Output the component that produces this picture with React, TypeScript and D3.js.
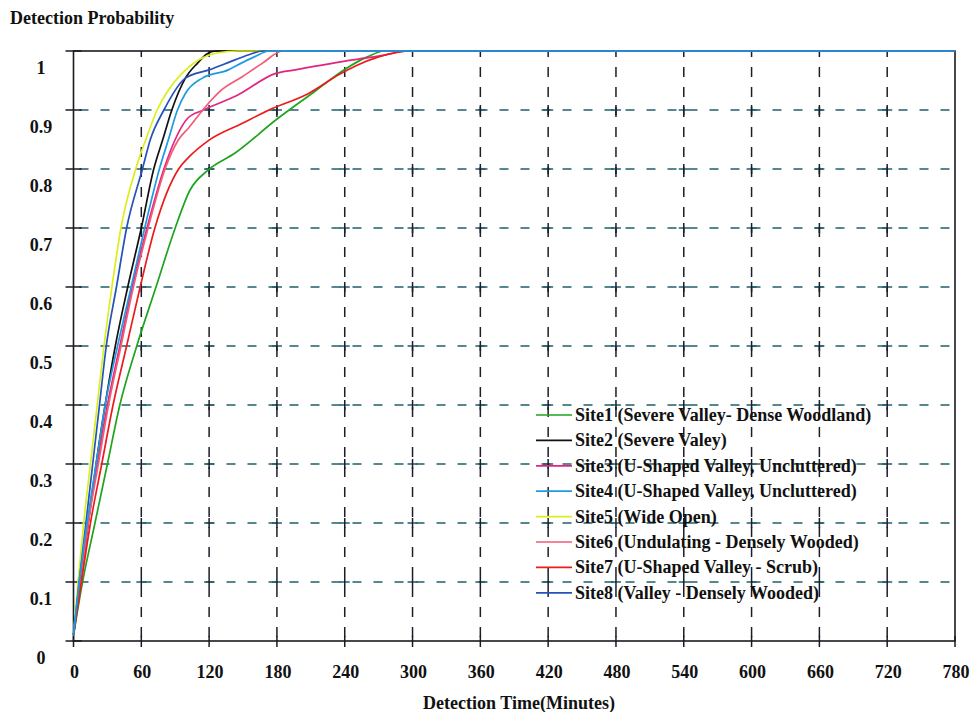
import React from "react";
import * as d3 from "d3";

const W = 973;
const H = 712;

const xTicks = [0, 60, 120, 180, 240, 300, 360, 420, 480, 540, 600, 660, 720, 780];
const yTicks = [0, 0.1, 0.2, 0.3, 0.4, 0.5, 0.6, 0.7, 0.8, 0.9, 1];
const yTickLabels = ["0", "0.1", "0.2", "0.3", "0.4", "0.5", "0.6", "0.7", "0.8", "0.9", "1"];

const site1T = [0, 8, 19, 30, 41, 56, 73, 90, 103, 119, 143, 179, 211, 241, 260, 275, 780];
const site1P = [0.01, 0.1, 0.2, 0.3, 0.4, 0.5, 0.6, 0.7, 0.764, 0.798, 0.827, 0.883, 0.928, 0.97, 0.99, 1, 1];

const site2T = [0, 6, 13, 20, 28, 37, 48, 60, 71, 79, 87, 99, 110, 118, 126, 780];
const site2P = [0.01, 0.1, 0.2, 0.3, 0.4, 0.5, 0.6, 0.7, 0.8, 0.85, 0.9, 0.954, 0.98, 0.995, 1, 1];

const site3T = [0, 6, 13, 21, 30, 41, 52, 65, 80, 90, 101, 115, 145, 179, 196, 247, 275, 295, 780];
const site3P = [0.01, 0.1, 0.2, 0.3, 0.4, 0.5, 0.6, 0.7, 0.8, 0.85, 0.886, 0.9, 0.925, 0.962, 0.968, 0.985, 0.993, 1, 1];

const site4T = [0, 5, 12, 20, 28, 39, 51, 63, 76, 84, 92, 99, 114, 137, 145, 160, 173, 780];
const site4P = [0.01, 0.1, 0.2, 0.3, 0.4, 0.5, 0.6, 0.7, 0.8, 0.85, 0.9, 0.928, 0.954, 0.968, 0.976, 0.99, 1, 1];

const site5T = [0, 4, 9, 15, 21, 27, 34, 42, 55, 64, 74, 84, 96, 111, 128, 145, 780];
const site5P = [0.01, 0.1, 0.2, 0.3, 0.4, 0.5, 0.6, 0.7, 0.8, 0.85, 0.9, 0.934, 0.962, 0.985, 0.997, 1, 1];

const site6T = [0, 6, 13, 22, 31, 42, 53, 66, 81, 93, 102, 117, 131, 149, 167, 185, 780];
const site6P = [0.01, 0.1, 0.2, 0.3, 0.4, 0.5, 0.6, 0.7, 0.8, 0.85, 0.87, 0.906, 0.934, 0.956, 0.979, 1, 1];

const site7T = [0, 7, 15, 25, 35, 47, 59, 72, 93, 102, 120, 149, 173, 208, 235, 250, 270, 300, 780];
const site7P = [0.01, 0.1, 0.2, 0.3, 0.4, 0.5, 0.6, 0.7, 0.8, 0.82, 0.849, 0.877, 0.9, 0.928, 0.96, 0.975, 0.99, 1, 1];

const site8T = [0, 5, 11, 17, 23, 29, 38, 47, 61, 68, 80, 99, 120, 143, 157, 167, 780];
const site8P = [0.01, 0.1, 0.2, 0.3, 0.4, 0.5, 0.6, 0.7, 0.8, 0.85, 0.9, 0.954, 0.968, 0.985, 0.995, 1, 1];

const siteNames = [
  "Site1 (Severe Valley- Dense Woodland)",
  "Site2 (Severe Valey)",
  "Site3 (U-Shaped Valley, Uncluttered)",
  "Site4 (U-Shaped Valley, Uncluttered)",
  "Site5 (Wide Open)",
  "Site6 (Undulating - Densely Wooded)",
  "Site7 (U-Shaped Valley - Scrub)",
  "Site8 (Valley - Densely Wooded)",
];
const siteColors = ["#1ea41e", "#111111", "#e0267e", "#1f9ae0", "#dcee1c", "#f25a78", "#ea1c1c", "#2352b8"];
const siteTimes = [site1T, site2T, site3T, site4T, site5T, site6T, site7T, site8T];
const siteProbs = [site1P, site2P, site3P, site4P, site5P, site6P, site7P, site8P];
const drawOrder = [0, 1, 2, 4, 5, 6, 7, 3];

const FONT = "'Liberation Serif', 'Times New Roman', serif";

export default function App() {
  const x0 = 73.5, x1 = 955, yTop = 51, yBot = 641;
  const x = d3.scaleLinear().domain([0, 780]).range([x0, x1]);
  const y = d3.scaleLinear().domain([0, 1]).range([yBot, yTop]);
  const line = d3
    .line<[number, number]>()
    .x((d) => x(d[0]))
    .y((d) => y(d[1]))
    .curve(d3.curveMonotoneX);

  const hColor = "#1f5f6c";
  const vColor = "#1b1d2a";

  const innerX = xTicks.slice(1, -1);
  const innerY = yTicks.slice(1, -1);

  return (
    <svg
      width={W}
      height={H}
      viewBox={`0 0 ${W} ${H}`}
      style={{ position: "absolute", left: 0, top: 0, background: "#fff" }}
      fontFamily={FONT}
    >
      <rect x={0} y={0} width={W} height={H} fill="#fff" />
      {/* horizontal grid */}
      {innerY.map((v) => (
        <line key={"h" + v} x1={x0} x2={x1} y1={y(v)} y2={y(v)} stroke={hColor} strokeWidth={1.5} strokeDasharray="9 12" strokeDashoffset={-6} />
      ))}
      {/* vertical grid */}
      {innerX.map((v) => (
        <line key={"v" + v} x1={x(v)} x2={x(v)} y1={yBot} y2={yTop} stroke={vColor} strokeWidth={1.5} strokeDasharray="10 10" strokeDashoffset={-4} />
      ))}
      {/* intersection crosses */}
      {innerX.map((vx) =>
        innerY.map((vy) => (
          <g key={"c" + vx + "_" + vy}>
            <line x1={x(vx) - 5} x2={x(vx) + 5} y1={y(vy)} y2={y(vy)} stroke={hColor} strokeWidth={1.5} />
            <line x1={x(vx)} x2={x(vx)} y1={y(vy) - 5} y2={y(vy) + 5} stroke={vColor} strokeWidth={1.5} />
          </g>
        ))
      )}
      {/* frame */}
      <rect x={x0} y={yTop} width={x1 - x0} height={yBot - yTop} fill="none" stroke="#1a1a22" strokeWidth={1.6} />
      {/* y ticks */}
      {yTicks.map((v) => (
        <line key={"yt" + v} x1={x0 - 8} x2={x0 + 8} y1={y(v)} y2={y(v)} stroke="#1a1a22" strokeWidth={1.5} />
      ))}
      {/* x ticks */}
      {xTicks.map((v) => (
        <line key={"xt" + v} x1={x(v)} x2={x(v)} y1={yBot - 5} y2={yBot + 6} stroke="#1a1a22" strokeWidth={1.5} />
      ))}
      {/* curves */}
      {drawOrder.map((i) => {
        const pts: [number, number][] = siteTimes[i].map((t, k) => [t, siteProbs[i][k]]);
        return <path key={"s" + i} d={line(pts) || ""} fill="none" stroke={siteColors[i]} strokeWidth={1.7} />;
      })}
      {/* legend */}
      {siteNames.map((name, i) => {
        const ly = 415 + i * 25.4;
        return (
          <g key={"lg" + i}>
            <line x1={536} x2={572} y1={ly} y2={ly} stroke={siteColors[i]} strokeWidth={1.7} />
            <text x={575} y={ly + 6} fontSize={18} fontWeight="bold" fill="#111">
              {name}
            </text>
          </g>
        );
      })}
      {/* y labels */}
      {yTicks.map((v, i) => (
        <text key={"yl" + v} x={41} y={y(v) + 23} fontSize={18} fontWeight="bold" textAnchor="middle" fill="#111">
          {yTickLabels[i]}
        </text>
      ))}
      {/* x labels */}
      {xTicks.map((v) => (
        <text key={"xl" + v} x={x(v) + 1} y={678} fontSize={18} fontWeight="bold" textAnchor="middle" fill="#111">
          {v}
        </text>
      ))}
      <text x={10} y={24} fontSize={18} fontWeight="bold" fill="#111">
        Detection Probability
      </text>
      <text x={519} y={709} fontSize={18} fontWeight="bold" textAnchor="middle" fill="#111">
        Detection Time(Minutes)
      </text>
    </svg>
  );
}
